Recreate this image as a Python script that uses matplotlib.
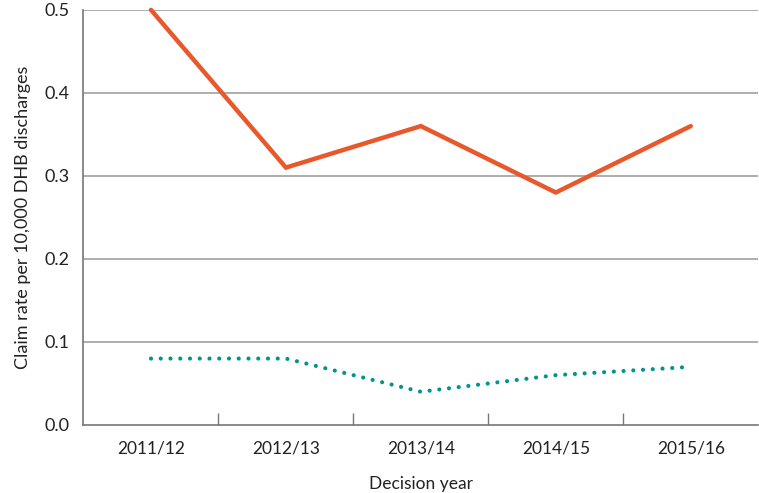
#!/usr/bin/env python3

import matplotlib.pyplot as plt
import numpy as np

plt.rcParams['font.family'] = ['Lato', 'DejaVu Sans']

years = ['2011/12', '2012/13', '2013/14', '2014/15', '2015/16']
rate_solid = [0.50, 0.31, 0.36, 0.28, 0.36]
rate_dotted = [0.08, 0.08, 0.04, 0.06, 0.07]
y_ticks = [0.0, 0.1, 0.2, 0.3, 0.4, 0.5]


def main():
    fig = plt.figure(figsize=(7.59, 4.93), dpi=100)
    ax = fig.add_axes([0.110, 0.138, 0.889, 0.842])

    x = np.arange(len(years))

    # horizontal gridlines
    for t in y_ticks[1:]:
        ax.axhline(t, color='#a0a0a0', lw=1.2, zorder=0)

    ax.plot(x, rate_solid, color='#e8582b', lw=3.2,
            solid_capstyle='round', solid_joinstyle='miter',
            clip_on=False, zorder=3)
    ax.plot(x, rate_dotted, color='#00948f', lw=3.0,
            linestyle=(0, (0.01, 2.33)), dash_capstyle='round',
            clip_on=False, zorder=3)

    ax.set_xlim(-0.5, 4.5)
    ax.set_ylim(0, 0.5)
    ax.set_yticks(y_ticks)
    ax.set_yticklabels(['{:.1f}'.format(t) for t in y_ticks])

    # category labels centred, tick marks between categories
    ax.set_xticks(x)
    ax.set_xticklabels(years)
    ax.set_xticks(x[:-1] + 0.5, minor=True)
    ax.tick_params(axis='x', which='major', length=0, pad=11,
                   labelsize=12.5, labelcolor='#222222')
    ax.tick_params(axis='x', which='minor', direction='in', length=9,
                   width=1, color='#777777')
    ax.tick_params(axis='y', length=0, pad=10, labelsize=13,
                   labelcolor='#222222')

    for side in ['top', 'right']:
        ax.spines[side].set_visible(False)
    ax.spines['left'].set_color('#777777')
    ax.spines['bottom'].set_color('#777777')
    ax.spines['left'].set_linewidth(1.2)
    ax.spines['bottom'].set_linewidth(1.2)

    ax.set_xlabel('Decision year', fontsize=12.5, labelpad=14, color='#222222')
    ax.set_ylabel('Claim rate per 10,000 DHB discharges', fontsize=13,
                  labelpad=10, color='#222222')

    fig.savefig('out.png', dpi=100)


if __name__ == "__main__":
    main()
